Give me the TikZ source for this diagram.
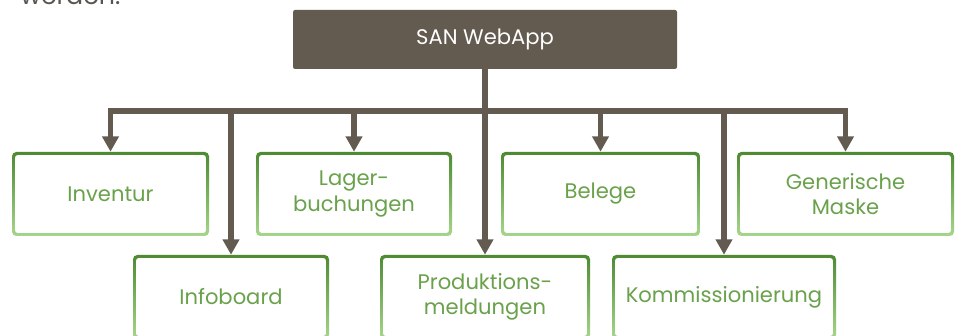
\documentclass[tikz,border=0pt]{standalone}
\usepackage{fontspec}
\setmainfont{Poppins}
\usetikzlibrary{arrows.meta}

\definecolor{sanbrown}{HTML}{635A50}
\definecolor{sangreen}{HTML}{6AA24C}
\definecolor{sandark}{HTML}{4E8A32}
\definecolor{sanlight}{HTML}{A6D68C}
\definecolor{santext}{HTML}{5A5550}

\tikzset{
	% the app box at the top
	appbox/.style={fill=sanbrown, rounded corners=1.5pt, minimum width=9.6cm,
		minimum height=1.475cm, text=white, font=\fontsize{15}{18}\selectfont},
	% the module boxes: shaded frame, white inside
	modbox/.style={top color=sandark, bottom color=sanlight, rounded corners=3pt,
		minimum height=2.1cm, text=sangreen, align=center,
		font=\fontsize{15}{18}\selectfont,
		path picture={\fill[white, rounded corners=1.5pt]
			([shift={(2.3pt,2.3pt)}]path picture bounding box.south west) rectangle
			([shift={(-2.3pt,-2.3pt)}]path picture bounding box.north east);}},
	line/.style={draw=sanbrown, line width=3.6pt},
	arrow/.style={line, -{Triangle[width=11.5pt,length=11pt]}}
}

\begin{document}
\begin{tikzpicture}
	\clip (0,0) rectangle (24,8.375);
	% rest of the sentence above the picture
	\node[anchor=base west, inner sep=0pt, text=santext, font=\fontsize{18}{22}\selectfont]
		(werden) at (0.5,8.27) {werden.};

	\node[appbox] (web) at (12.125,7.3875) {SAN WebApp};

	% first row
	\node[modbox, minimum width=4.925cm] (inv) at (2.7625,3.525) {Inventur};
	\node[modbox, minimum width=4.9cm] (lag) at (8.85,3.525) {Lager-\\buchungen};
	\node[modbox, minimum width=4.975cm] (bel) at (15.0125,3.525) {Belege};
	\node[modbox, minimum width=5.425cm] (gen) at (21.1375,3.525) {Generische\\Maske};
	% second row
	\node[modbox, minimum width=4.9cm] (info) at (5.775,0.95) {Infoboard};
	\node[modbox, minimum width=5.25cm] (prod) at (12.125,0.95) {Produktions-\\meldungen};
	\node[modbox, minimum width=5.6cm] (komm) at (18.1,0.95) {Kommissionierung};

	% the bar all arrows start from
	\coordinate (barL) at (2.7625,5.6);
	\coordinate (barR) at (21.1375,5.6);
	\draw[line] (web.south) -- (web.south |- barL);
	\draw[line, line cap=rect] (barL) -- (barR);
	\foreach \n in {inv,lag,bel,gen,info,prod,komm}
		\draw[arrow] (\n.north |- barL) -- (\n.north);

\end{tikzpicture}
\end{document}
